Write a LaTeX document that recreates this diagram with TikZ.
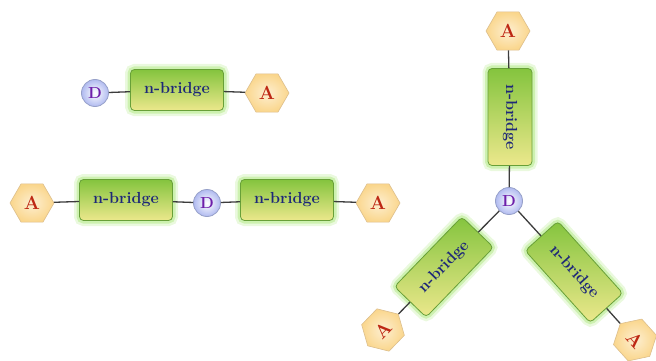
\documentclass[tikz,border=0pt]{standalone}
\usetikzlibrary{shapes.geometric}
\definecolor{boxtop}{RGB}{132,196,62}
\definecolor{boxbot}{RGB}{236,232,140}
\definecolor{boxline}{RGB}{104,160,56}
\definecolor{glow}{RGB}{150,225,90}
\definecolor{bridgetxt}{RGB}{30,40,120}
\definecolor{dfill}{RGB}{176,186,240}
\definecolor{dline}{RGB}{150,160,200}
\definecolor{dtxt}{RGB}{110,30,170}
\definecolor{afill}{RGB}{250,214,140}
\definecolor{aline}{RGB}{220,190,140}
\definecolor{atxt}{RGB}{190,40,20}
\definecolor{link}{RGB}{60,60,60}
\tikzset{
  bridge/.style={rectangle, rounded corners=4pt, draw=boxline, line width=0.8pt,
    top color=boxtop, bottom color=boxbot, minimum width=93pt, minimum height=41pt,
    inner sep=0pt, text=bridgetxt, font=\fontsize{16}{18}\selectfont\bfseries,
    preaction={draw=glow, line width=11pt, opacity=0.2},
    preaction={draw=glow, line width=6pt, opacity=0.35}},
  vbridge/.style={bridge, minimum width=97pt, minimum height=44pt},
  donor/.style={circle, draw=dline, line width=0.8pt, inner color=white, outer color=dfill,
    minimum size=27pt, inner sep=0pt, text=dtxt, font=\fontsize{16}{18}\selectfont\bfseries},
  acceptor/.style={regular polygon, regular polygon sides=6,
    draw=aline, line width=0.6pt, inner color=afill!40, outer color=afill,
    minimum size=44pt, inner sep=0pt, text=atxt, font=\fontsize{19}{21}\selectfont\bfseries},
  link/.style={draw=link, line width=1.3pt}
}
\begin{document}
\begin{tikzpicture}[x=1pt,y=-1pt]
\useasboundingbox (0,0) rectangle (656,361);
% row 1
\node[donor] (d1) at (95,93) {D};
\node[bridge] (b1) at (177,90) {n-bridge};
\node[acceptor] (a1) at (267,93) {A};
\draw[link] (d1) -- (b1);
\draw[link] (b1) -- (a1);
% row 2
\node[acceptor] (a2) at (32,203) {A};
\node[bridge] (b2) at (126,200) {n-bridge};
\node[donor] (d2) at (207,203) {D};
\node[bridge] (b3) at (287,200) {n-bridge};
\node[acceptor] (a3) at (378,203) {A};
\draw[link] (a2) -- (b2);
\draw[link] (b2) -- (d2);
\draw[link] (d2) -- (b3);
\draw[link] (b3) -- (a3);
% star
\node[acceptor] (a4) at (508,31) {A};
\node[vbridge, rotate=-90] (b4) at (510,117) {n-bridge};
\node[donor] (d3) at (509,201) {D};
\node[vbridge, rotate=46] (b5) at (444,267) {n-bridge};
\node[acceptor, rotate=46] (a5) at (383,330) {A};
\node[vbridge, rotate=-48] (b6) at (574,272) {n-bridge};
\node[acceptor, rotate=-48] (a6) at (635,340) {A};
\draw[link] (a4) -- (b4);
\draw[link] (b4) -- (d3);
\draw[link] (d3) -- (b5);
\draw[link] (b5) -- (a5);
\draw[link] (d3) -- (b6);
\draw[link] (b6) -- (a6);
\end{tikzpicture}
\end{document}
